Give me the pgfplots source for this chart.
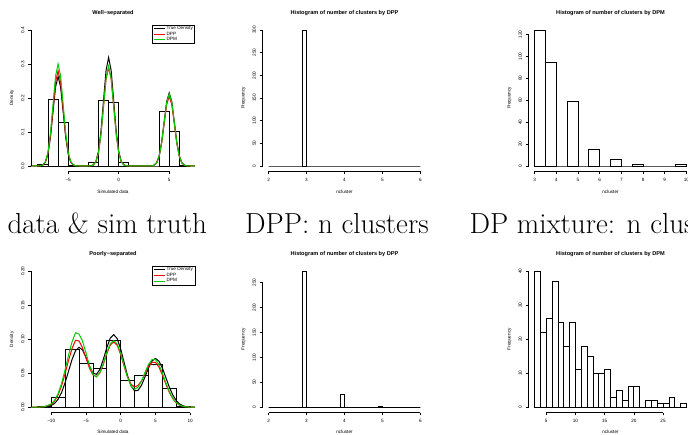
\documentclass[border=0pt]{standalone}
\usepackage{fontspec}
\usepackage{pgfplots}
\pgfplotsset{compat=1.18}
\usepackage{pgfplotstable}
\newfontfamily\rfont{Liberation Sans}
\definecolor{rred}{RGB}{255,0,0}
\definecolor{rgreen}{RGB}{0,205,0}
\newcommand\rsmall{\rfont\fontsize{4.66}{5.2}\selectfont}
\newcommand\rtitle{\rfont\bfseries\fontsize{5.6}{6.2}\selectfont}

\pgfplotsset{
  rpanel/.style={
    scale only axis, width=164pt, height=146.9pt, anchor=south west,
    axis lines=left, axis line style={draw=none},
    tick align=outside, major tick length=2.7pt,
    every tick/.style={black, line width=0.5pt},
    clip=false,
    tick label style={font=\rsmall, inner sep=0pt},
    xticklabel style={anchor=north},
    yticklabel style={rotate=90, anchor=south},
    xticklabel shift=3.9pt, yticklabel shift=3.6pt,
    scaled ticks=false,
    legend style={at={(1,1)}, anchor=north east, draw=black, line width=0.5pt,
      font=\rsmall, inner xsep=1.2pt, inner ysep=0.8pt, row sep=-0.6pt,
      nodes={inner sep=0.7pt}, cells={anchor=west}},
    legend image code/.code={\draw[##1] (0pt,0pt) -- (11.3pt,0pt);},
  },
  hist/.style={ybar interval, draw=black, fill=none, line width=0.8pt, forget plot},
  dens/.style={line width=1.0pt, no marks},
}

% ---------- top-left: well-separated ----------
\pgfplotstableread{
x d
-8 0.006
-7 0.197
-6 0.127
-5 0.003
-4 0
-3 0.010
-2 0.194
-1 0.188
0 0.010
1 0
2 0
3 0
4 0.160
5 0.103
6 0.003
7 0
}\histA
\pgfplotstableread{
x k r g
-8.68 0 0 0
-8.00 0.0001 0.0001 0.0001
-7.75 0.0006 0.0006 0.0007
-7.50 0.0029 0.0031 0.0033
-7.25 0.0115 0.0123 0.0132
-7.00 0.0356 0.0379 0.0406
-6.75 0.0854 0.0909 0.0974
-6.50 0.1595 0.1698 0.1820
-6.25 0.2321 0.2471 0.2648
-6.00 0.2630 0.2800 0.3000
-5.75 0.2321 0.2471 0.2648
-5.50 0.1595 0.1698 0.1820
-5.25 0.0854 0.0909 0.0974
-5.00 0.0356 0.0379 0.0406
-4.75 0.0115 0.0123 0.0132
-4.50 0.0029 0.0031 0.0033
-4.25 0.0006 0.0006 0.0007
-4.00 0.0001 0.0001 0.0001
-3.00 0.0001 0.0001 0.0001
-2.75 0.0007 0.0006 0.0006
-2.50 0.0035 0.0032 0.0033
-2.25 0.0140 0.0127 0.0129
-2.00 0.0432 0.0392 0.0396
-1.75 0.1036 0.0942 0.0951
-1.50 0.1935 0.1759 0.1777
-1.25 0.2815 0.2559 0.2586
-1.00 0.3190 0.2900 0.2930
-0.75 0.2815 0.2559 0.2586
-0.50 0.1935 0.1759 0.1777
-0.25 0.1036 0.0942 0.0951
0.00 0.0432 0.0392 0.0396
0.25 0.0140 0.0127 0.0129
0.50 0.0035 0.0032 0.0033
0.75 0.0007 0.0006 0.0006
1.00 0.0001 0.0001 0.0001
3.00 0.0001 0.0001 0.0001
3.25 0.0005 0.0005 0.0005
3.50 0.0024 0.0023 0.0024
3.75 0.0094 0.0090 0.0093
4.00 0.0291 0.0277 0.0287
4.25 0.0698 0.0666 0.0688
4.50 0.1304 0.1243 0.1286
4.75 0.1897 0.1809 0.1871
5.00 0.2150 0.2050 0.2120
5.25 0.1897 0.1809 0.1871
5.50 0.1304 0.1243 0.1286
5.75 0.0698 0.0666 0.0688
6.00 0.0291 0.0277 0.0287
6.25 0.0094 0.0090 0.0093
6.50 0.0024 0.0023 0.0024
6.75 0.0005 0.0005 0.0005
7.00 0.0001 0.0001 0.0001
7.55 0 0 0
}\densA

% ---------- bottom-left: poorly-separated ----------
\pgfplotstableread{
x d
-12 0.0015
-10 0.015
-8 0.085
-6 0.065
-4 0.057
-2 0.098
0 0.040
2 0.047
4 0.063
6 0.027
8 0.0015
10 0
}\histB
\pgfplotstableread{
x k r g
-12.9 0 0 0
-12.0 0.0000 0.0001 0.0001
-11.0 0.0003 0.0007 0.0007
-10.0 0.0025 0.0043 0.0048
-9.5 0.0058 0.0094 0.0104
-9.0 0.0119 0.0183 0.0203
-8.5 0.0219 0.0318 0.0354
-8.0 0.0361 0.0496 0.0552
-7.5 0.0533 0.0692 0.0770
-7.0 0.0704 0.0865 0.0962
-6.5 0.0832 0.0985 0.1095
-6.0 0.0882 0.0975 0.1075
-5.5 0.0843 0.0876 0.0973
-5.0 0.0734 0.0725 0.0798
-4.5 0.0603 0.0575 0.0616
-4.0 0.0505 0.0475 0.0486
-3.5 0.0484 0.0450 0.0447
-3.0 0.0556 0.0505 0.0507
-2.5 0.0704 0.0630 0.0643
-2.0 0.0877 0.0787 0.0805
-1.5 0.1017 0.0915 0.0934
-1.0 0.1068 0.0962 0.0982
-0.5 0.1009 0.0910 0.0929
0.0 0.0855 0.0773 0.0790
0.5 0.0654 0.0600 0.0608
1.0 0.0458 0.0440 0.0434
1.5 0.0312 0.0335 0.0312
2.0 0.0241 0.0300 0.0264
2.5 0.0249 0.0320 0.0295
3.0 0.0325 0.0390 0.0387
3.5 0.0448 0.0495 0.0513
4.0 0.0579 0.0600 0.0631
4.5 0.0680 0.0662 0.0700
5.0 0.0718 0.0661 0.0700
5.5 0.0679 0.0591 0.0627
6.0 0.0575 0.0473 0.0502
6.5 0.0436 0.0339 0.0359
7.0 0.0295 0.0218 0.0231
7.5 0.0179 0.0125 0.0132
8.0 0.0097 0.0064 0.0068
8.5 0.0047 0.0029 0.0031
9.0 0.0021 0.0012 0.0013
9.5 0.0008 0.0005 0.0005
10.0 0.0003 0.0002 0.0002
10.69 0 0 0
}\densB

% ---------- DPP histograms ----------
\pgfplotstableread{
x n
2.0 0
2.9 300
3.0 0
6.0 0
}\dppA
\pgfplotstableread{
x n
2.0 0
2.9 273
3.0 0
3.9 26
4.0 0
4.9 1
5.0 0
6.0 0
}\dppB

% ---------- DPM histograms ----------
\pgfplotstableread{
x n
3.0 124
3.5 94
4.0 0
4.5 59
5.0 0
5.5 15
6.0 0
6.5 6
7.0 0
7.5 1
8.0 0
8.5 0
9.0 0
9.5 1
10.0 0
}\dpmA
\pgfplotstableread{
x n
3 40
4 22
5 26
6 37
7 25
8 18
9 25
10 11
11 18
12 15
13 10
14 10
15 11
16 3
17 5
18 2
19 6
20 6
21 0
22 2
23 2
24 1
25 1
26 3
27 0
28 1
29 0
}\dpmB

\begin{document}
\begin{tikzpicture}
\useasboundingbox (0,0) rectangle (688pt,434pt);
\clip (0,0) rectangle (688pt,434pt);

% ===== top-left =====
\begin{axis}[rpanel, at={(31pt,262.56pt)},
  xmin=-8.68, xmax=7.55, ymin=-0.016, ymax=0.416,
  xtick={-5,0,5}, xticklabels={−5,0,5},
  ytick={0,0.1,0.2,0.3,0.4}, yticklabels={0.0,0.1,0.2,0.3,0.4}]
\addplot[hist] table[x=x,y=d] {\histA};
\addplot[dens, black] table[x=x,y=k] {\densA}; \addlegendentry{True Density}
\addplot[dens, rred] table[x=x,y=r] {\densA}; \addlegendentry{DPP}
\addplot[dens, rgreen] table[x=x,y=g] {\densA}; \addlegendentry{DPM}
\draw[line width=0.5pt] (axis cs:-5,-0.016) -- (axis cs:5,-0.016);
\draw[line width=0.5pt] (axis cs:-8.68,0) -- (axis cs:-8.68,0.4);
\node[font=\rtitle] at (axis description cs:0.5,1.079) {Well−separated};
\node[font=\rsmall] at (axis description cs:0.5,-0.1395) {Simulated data};
\node[font=\rsmall, rotate=90] at (axis description cs:-0.1159,0.5) {Density};
\end{axis}

% ===== top-middle =====
\begin{axis}[rpanel, at={(262.5pt,262.56pt)},
  xmin=1.84, xmax=6.16, ymin=-12, ymax=312,
  xtick={2,3,4,5,6}, xticklabels={2,3,4,5,6},
  ytick={0,50,100,150,200,250,300}, yticklabels={0,50,100,150,200,250,300}]
\addplot[hist] table[x=x,y=n] {\dppA};
\draw[line width=0.5pt] (axis cs:2,-12) -- (axis cs:6,-12);
\draw[line width=0.5pt] (axis cs:1.84,0) -- (axis cs:1.84,300);
\node[font=\rtitle] at (axis description cs:0.5,1.079) {Histogram of number of clusters by DPP};
\node[font=\rsmall] at (axis description cs:0.5,-0.1395) {ncluster};
\node[font=\rsmall, rotate=90] at (axis description cs:-0.1159,0.5) {Frequency};
\end{axis}

% ===== top-right =====
\begin{axis}[rpanel, at={(528.5pt,262.56pt)},
  xmin=2.72, xmax=10.28, ymin=-4.96, ymax=128.96,
  xtick={3,4,5,6,7,8,9,10}, xticklabels={3,4,5,6,7,8,9,10},
  ytick={0,20,40,60,80,100,120}, yticklabels={0,20,40,60,80,100,120}]
\addplot[hist] table[x=x,y=n] {\dpmA};
\draw[line width=0.5pt] (axis cs:3,-4.96) -- (axis cs:10,-4.96);
\draw[line width=0.5pt] (axis cs:2.72,0) -- (axis cs:2.72,120);
\node[font=\rtitle] at (axis description cs:0.5,1.079) {Histogram of number of clusters by DPM};
\node[font=\rsmall] at (axis description cs:0.5,-0.1395) {ncluster};
\node[font=\rsmall, rotate=90] at (axis description cs:-0.1159,0.5) {Frequency};
\end{axis}

% ===== bottom-left =====
\begin{axis}[rpanel, at={(31pt,21.3pt)},
  xmin=-12.91, xmax=10.69, ymin=-0.008, ymax=0.208,
  xtick={-10,-5,0,5,10}, xticklabels={−10,−5,0,5,10},
  ytick={0,0.05,0.1,0.15,0.2}, yticklabels={0.00,0.05,0.10,0.15,0.20}]
\addplot[hist] table[x=x,y=d] {\histB};
\addplot[dens, black] table[x=x,y=k] {\densB}; \addlegendentry{True Density}
\addplot[dens, rred] table[x=x,y=r] {\densB}; \addlegendentry{DPP}
\addplot[dens, rgreen] table[x=x,y=g] {\densB}; \addlegendentry{DPM}
\draw[line width=0.5pt] (axis cs:-10,-0.008) -- (axis cs:10,-0.008);
\draw[line width=0.5pt] (axis cs:-12.91,0) -- (axis cs:-12.91,0.2);
\node[font=\rtitle] at (axis description cs:0.5,1.079) {Poorly−separated};
\node[font=\rsmall] at (axis description cs:0.5,-0.127) {Simulated data};
\node[font=\rsmall, rotate=90] at (axis description cs:-0.1159,0.5) {Density};
\end{axis}

% ===== bottom-middle =====
\begin{axis}[rpanel, at={(262.5pt,21.3pt)},
  xmin=1.84, xmax=6.16, ymin=-10.92, ymax=283.92,
  xtick={2,3,4,5,6}, xticklabels={2,3,4,5,6},
  ytick={0,50,100,150,200,250}, yticklabels={0,50,100,150,200,250}]
\addplot[hist] table[x=x,y=n] {\dppB};
\draw[line width=0.5pt] (axis cs:2,-10.92) -- (axis cs:6,-10.92);
\draw[line width=0.5pt] (axis cs:1.84,0) -- (axis cs:1.84,250);
\node[font=\rtitle] at (axis description cs:0.5,1.079) {Histogram of number of clusters by DPP};
\node[font=\rsmall] at (axis description cs:0.5,-0.127) {ncluster};
\node[font=\rsmall, rotate=90] at (axis description cs:-0.1159,0.5) {Frequency};
\end{axis}

% ===== bottom-right =====
\begin{axis}[rpanel, at={(528.5pt,21.3pt)},
  xmin=1.96, xmax=30.04, ymin=-1.6, ymax=41.6,
  xtick={5,10,15,20,25}, xticklabels={5,10,15,20,25},
  ytick={0,10,20,30,40}, yticklabels={0,10,20,30,40}]
\addplot[hist] table[x=x,y=n] {\dpmB};
\draw[line width=0.5pt] (axis cs:5,-1.6) -- (axis cs:25,-1.6);
\draw[line width=0.5pt] (axis cs:1.96,0) -- (axis cs:1.96,40);
\node[font=\rtitle] at (axis description cs:0.5,1.079) {Histogram of number of clusters by DPM};
\node[font=\rsmall] at (axis description cs:0.5,-0.127) {ncluster};
\node[font=\rsmall, rotate=90] at (axis description cs:-0.1159,0.5) {Frequency};
\end{axis}

% ===== captions =====
\node[anchor=base west, inner sep=0pt, font=\fontsize{29}{34}\selectfont] at (7.3pt,200pt) {data \& sim truth};
\node[anchor=base west, inner sep=0pt, font=\fontsize{29}{34}\selectfont] at (245pt,200pt) {DPP: n clusters};
\node[anchor=base west, inner sep=0pt, font=\fontsize{29}{34}\selectfont] at (469.3pt,200pt) {DP mixture: n clusters};
\end{tikzpicture}
\end{document}
